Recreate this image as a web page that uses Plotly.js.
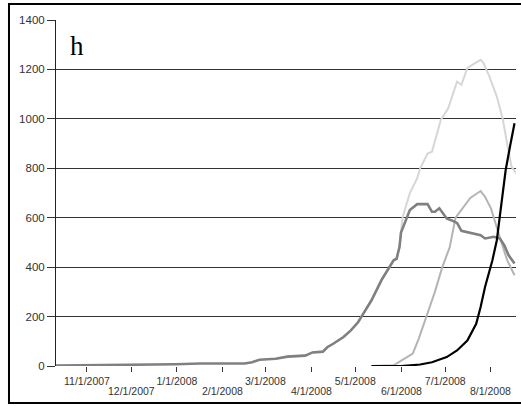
<!DOCTYPE html>
<html>
<head>
<meta charset="utf-8">
<script src="https://cdn.plot.ly/plotly-3.0.1.min.js"></script>
<style>html,body{margin:0;padding:0;background:#fff;}#chart{width:521px;height:406px;}</style>
</head>
<body>
<div id="chart"></div>
<script>
// Series A (dark gray, thick)
const datesA = ['2007-10-11','2007-11-01','2007-12-01','2007-12-31','2008-01-17','2008-02-16','2008-02-21','2008-02-26','2008-03-08','2008-03-16','2008-03-28','2008-04-02','2008-04-09','2008-04-12','2008-04-16','2008-04-23','2008-04-28','2008-05-03','2008-05-05','2008-05-12','2008-05-19','2008-05-23','2008-05-27','2008-05-29','2008-05-31','2008-06-01','2008-06-04','2008-06-07','2008-06-12','2008-06-19','2008-06-22','2008-06-24','2008-06-27','2008-07-02','2008-07-05','2008-07-09','2008-07-12','2008-07-19','2008-07-25','2008-07-28','2008-08-03','2008-08-07','2008-08-10','2008-08-13','2008-08-17'];
const valsA = [2,3,5,7,10,10,15,25,29,38,42,55,58,76,90,117,144,178,198,266,350,387,428,434,482,540,585,631,655,655,624,624,638,597,590,579,547,536,529,516,523,516,489,448,415];

// Series B (medium-light gray)
const datesB = ['2008-05-12','2008-05-20','2008-05-27','2008-06-02','2008-06-09','2008-06-13','2008-06-18','2008-06-24','2008-06-29','2008-07-04','2008-07-08','2008-07-13','2008-07-18','2008-07-25','2008-07-28','2008-08-01','2008-08-04','2008-08-08','2008-08-12','2008-08-17'];
const valsB = [0,0,3,25,50,110,200,300,400,480,600,640,680,708,685,638,577,502,428,367];

// Series C (very light gray, tall)
const datesC = ['2008-03-08','2008-03-16','2008-03-28','2008-04-02','2008-04-09','2008-04-12','2008-04-16','2008-04-23','2008-04-28','2008-05-03','2008-05-05','2008-05-12','2008-05-19','2008-05-23','2008-05-27','2008-05-29','2008-05-31','2008-06-02','2008-06-07','2008-06-12','2008-06-14','2008-06-19','2008-06-22','2008-06-28','2008-07-03','2008-07-09','2008-07-12','2008-07-16','2008-07-25','2008-07-27','2008-07-31','2008-08-05','2008-08-09','2008-08-12','2008-08-15','2008-08-18'];
const valsC = [29,38,42,55,58,76,90,117,144,178,198,266,350,387,428,434,482,600,700,760,800,860,867,996,1043,1150,1138,1206,1239,1226,1171,1090,1000,900,806,780];

// Series D (black)
const datesD = ['2008-05-12','2008-06-01','2008-06-14','2008-06-22','2008-07-02','2008-07-09','2008-07-16','2008-07-22','2008-07-25','2008-07-28','2008-08-02','2008-08-05','2008-08-07','2008-08-09','2008-08-11','2008-08-14','2008-08-17'];
const valsD = [0,0,6,15,36,63,103,171,239,320,428,509,604,699,793,890,982];

// x tick labels: upper row (odd months) on the axis, lower row (even months) staggered below
const tickDatesAll = ['2007-11-01','2007-12-01','2008-01-01','2008-02-01','2008-03-01','2008-04-01','2008-05-01','2008-06-01','2008-07-01','2008-08-01'];
const tickLabelsAll = ['11/1/2007','','1/1/2008','','3/1/2008','','5/1/2008','','7/1/2008',''];
const tickDatesLower = ['2007-12-01','2008-02-01','2008-04-01','2008-06-01','2008-08-01'];
const tickLabelsLower = ['12/1/2007','2/1/2008','4/1/2008','6/1/2008','8/1/2008'];
const yTicks = [0,200,400,600,800,1000,1200,1400];
const panelLabel = 'h';

const traces = [
  {x: datesC, y: valsC, mode: 'lines', line: {color: '#d6d6d6', width: 2}, hoverinfo: 'skip'},
  {x: datesB, y: valsB, mode: 'lines', line: {color: '#b4b4b4', width: 2}, hoverinfo: 'skip'},
  {x: datesA, y: valsA, mode: 'lines', line: {color: '#808080', width: 2.6}, hoverinfo: 'skip'},
  {x: datesD, y: valsD, mode: 'lines', line: {color: '#000000', width: 2.2}, hoverinfo: 'skip'}
];

const lowerAnnots = tickDatesLower.map((d, i) => ({
  text: tickLabelsLower[i], xref: 'x', yref: 'paper', x: d, y: -0.0723,
  xanchor: 'center', yanchor: 'middle', showarrow: false,
  font: {family: 'Liberation Sans, Arial, sans-serif', size: 10.5, color: '#333'}
}));

const layout = {
  width: 521, height: 406,
  margin: {l: 56, r: 5, t: 20, b: 40},
  paper_bgcolor: '#ffffff', plot_bgcolor: '#ffffff',
  showlegend: false,
  font: {family: 'Liberation Sans, Arial, sans-serif', color: '#333'},
  xaxis: {
    type: 'date',
    range: ['2007-10-11', '2008-08-18'],
    tickmode: 'array', tickvals: tickDatesAll, ticktext: tickLabelsAll,
    ticks: 'outside', ticklen: 5, tickwidth: 1, tickcolor: '#333',
    showgrid: false, zeroline: false, showline: false,
    tickangle: 0,
    tickfont: {size: 10.5, color: '#333'}
  },
  yaxis: {
    range: [0, 1400],
    tickmode: 'array', tickvals: yTicks,
    ticks: 'outside', ticklen: 8, tickwidth: 1, tickcolor: '#333',
    showgrid: true, gridcolor: '#333', gridwidth: 1,
    zeroline: false, showline: true, linecolor: '#222', linewidth: 1,
    tickfont: {size: 11.5, color: '#333'}
  },
  shapes: [
    {type: 'rect', xref: 'paper', yref: 'paper', x0: -0.1022, x1: 1.02, y0: -0.1069, y1: 1.0462,
     line: {color: '#000', width: 2}, fillcolor: 'rgba(0,0,0,0)'}
  ],
  annotations: [
    {text: panelLabel, xref: 'paper', yref: 'paper', x: 0.027, y: 0.975, xanchor: 'left', yanchor: 'top',
     showarrow: false, font: {family: 'Liberation Serif, Times New Roman, serif', size: 27, color: '#000'}}
  ].concat(lowerAnnots)
};

Plotly.newPlot('chart', traces, layout, {staticPlot: true, displayModeBar: false});
</script>
</body>
</html>
